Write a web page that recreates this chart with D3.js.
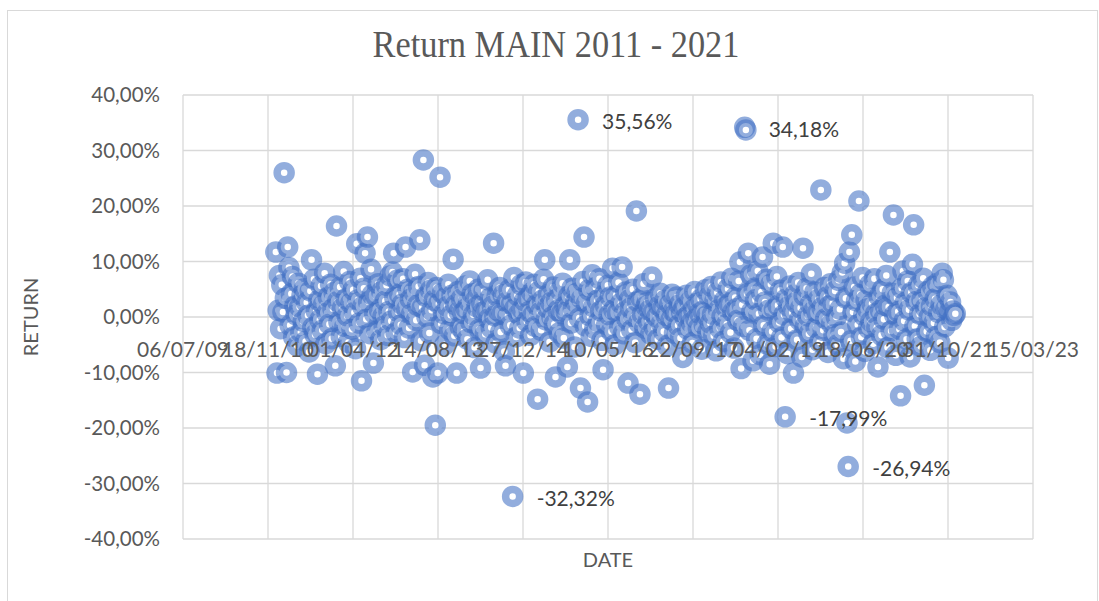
<!DOCTYPE html>
<html>
<head>
<meta charset="utf-8">
<script src="https://cdn.jsdelivr.net/npm/d3@7"></script>
<style>
  body { margin: 0; background: #fff; }
  svg text { font-family: Lato, "Open Sans", sans-serif; }
</style>
</head>
<body>
<svg id="chart" width="1099" height="601"></svg>
<script>
// weekly returns in %, one array per year (52 weeks each)
var years = [2011, 2012, 2013, 2014, 2015, 2016, 2017, 2018, 2019, 2020, 2021];
var r2011 = [11.7,-10.1,1.2,7.5,-2.1,5.8,0.9,26.0,3.4,-10.0,12.6,8.9,-1.5,4.2,7.3,-3.6,2.0,0.4,-5.2,6.1,1.8,-2.7,3.9,-0.8,5.1,-4.4,2.6,0.3,-6.3,4.7,10.3,-1.9,6.8,-3.2,1.1,-10.3,3.0,-0.5,5.6,-2.4,2.2,7.9,-4.8,0.7,3.6,-1.3,5.9,-3.9,1.5,4.4,-8.8,16.4];
var r2012 = [2.8,-0.9,5.4,-3.5,1.6,8.2,-1.7,3.3,0.2,-4.6,6.4,2.5,-2.2,4.9,0.8,-5.7,13.2,3.1,-1.1,7.0,-11.5,1.9,5.2,11.5,-0.4,14.4,2.7,-3.0,8.6,4.0,-8.3,0.6,3.8,-2.5,6.0,1.3,-4.1,4.6,0.1,-1.6,2.9,5.7,-3.3,1.0,7.4,-0.7,8.1,11.5,3.5,-2.8,6.6,0.9];
var r2013 = [4.1,-1.4,2.3,6.9,-3.7,12.6,1.4,5.0,-2.0,3.2,0.5,-9.9,4.5,7.7,-0.6,2.1,5.5,13.9,-4.3,1.7,28.3,-8.7,3.7,0.0,6.2,-2.9,4.8,1.2,-10.8,3.0,-19.5,5.3,-10.1,2.4,25.2,-1.2,4.3,0.6,-5.0,3.6,1.9,5.9,-2.3,0.3,3.9,10.4,-3.4,2.2,-10.1,4.6,1.0,-1.8];
var r2014 = [3.3,0.7,-2.6,5.6,1.5,-4.0,2.8,6.5,-1.0,4.2,0.4,-5.5,3.1,1.8,5.0,-2.2,-9.2,2.5,0.9,4.7,-3.1,1.3,6.7,-0.3,3.4,-1.9,2.0,13.3,0.2,-4.7,3.8,1.1,5.3,-2.7,0.6,4.0,-6.2,-8.8,2.7,0.1,4.9,-1.5,2.3,-32.32,7.1,1.6,-3.6,3.9,0.5,-2.0,5.8,1.4];
var r2015 = [-10.1,2.9,6.3,-0.8,3.5,1.0,-3.3,4.4,0.3,5.9,-1.7,2.2,-14.8,4.6,0.8,-2.4,3.0,6.8,10.3,-0.5,1.7,4.1,-4.5,2.6,0.0,5.4,-1.3,-10.8,3.2,1.2,-2.9,4.8,0.6,6.1,-3.8,2.0,0.9,-9.0,3.7,10.3,-1.1,5.2,1.5,-5.4,2.7,4.3,35.56,-0.2,-12.8,3.3,6.4,14.4];
var r2016 = [-1.6,2.4,-15.3,4.9,0.2,-3.5,7.6,1.8,-2.1,5.3,3.0,-0.9,6.9,1.1,-4.2,-9.5,4.0,2.1,-1.4,5.7,0.4,3.6,-2.6,8.8,1.3,-5.0,3.9,0.7,6.2,-1.8,2.5,9.0,-3.0,0.9,4.5,-0.4,-11.9,3.1,1.6,-2.3,5.0,0.1,-4.6,19.1,2.8,-1.0,-13.9,3.4,0.5,6.0,-2.0,1.9];
var r2017 = [2.6,-0.7,1.2,-3.1,7.2,0.8,-1.9,3.4,0.0,-4.0,2.0,4.3,-1.2,1.5,-2.6,3.0,0.3,-5.2,-12.8,2.3,-0.5,4.1,1.0,-2.9,0.6,3.6,-1.5,2.2,-3.8,0.9,-7.3,1.8,-0.2,3.9,-2.2,0.4,2.8,-1.0,-4.7,1.4,4.6,-0.3,2.5,-2.0,0.7,3.2,-5.8,1.1,-1.4,4.9,0.2,-2.7];
var r2018 = [3.7,-1.1,5.5,0.5,-3.4,2.9,-6.1,4.4,1.3,-2.0,6.3,0.1,-4.4,3.0,1.8,-1.3,5.1,2.4,-2.8,7.0,0.9,-5.6,3.5,1.5,-0.6,6.5,9.9,-9.3,2.2,-1.7,34.18,33.7,4.2,11.5,-2.4,7.6,1.0,-7.9,5.0,3.1,-3.9,8.3,0.6,-6.8,4.5,10.8,-1.5,2.7,6.8,-4.9,1.2,-8.5];
var r2019 = [5.9,-2.6,13.3,1.4,-5.3,7.3,2.1,-1.0,4.8,-3.7,12.6,0.4,-17.99,3.3,-6.6,1.9,5.6,-2.1,0.8,-10.1,4.0,2.6,-4.1,6.2,-0.5,1.6,-7.2,12.4,3.8,-1.6,5.2,0.2,-3.0,2.3,7.8,-5.9,1.1,4.5,-1.9,0.7,3.2,-4.5,22.9,1.7,-2.4,5.3,-0.3,3.6,-6.4,2.0,6.0,-1.2];
var r2020 = [2.5,-3.2,4.7,0.0,-5.0,6.6,1.4,-2.7,8.0,-7.5,9.7,3.4,-19.1,-26.94,11.7,-4.3,14.8,0.9,5.4,-8.0,2.9,-1.4,20.9,4.1,-3.6,7.1,0.3,-6.2,3.0,1.5,-2.0,5.8,-0.8,2.4,-4.8,6.9,0.6,-1.9,-9.0,3.7,1.2,-3.3,5.0,-0.4,2.1,7.5,-5.5,1.8,11.7,-2.5,4.3,18.4];
var r2021 = [0.4,-6.9,3.5,1.0,-2.2,-14.2,5.2,8.3,-0.7,2.6,-4.0,6.5,1.3,-7.2,4.4,9.5,16.6,-1.6,2.8,-3.9,5.7,0.5,-5.3,3.1,7.0,-12.3,1.7,-2.6,4.6,0.0,-6.0,2.0,5.5,-1.1,3.3,-3.5,6.1,0.8,-4.6,2.2,7.9,6.7,-1.8,1.4,3.9,-7.4,0.9,2.7,-0.6,1.1,0.3,0.6];
var yearReturns = [r2011, r2012, r2013, r2014, r2015, r2016, r2017, r2018, r2019, r2020, r2021];

// points that carry a data label
var labelled = ["35,56%", "34,18%", "-32,32%", "-17,99%", "-26,94%"];

var xTicks = ["06/07/09","18/11/10","01/04/12","14/08/13","27/12/14","10/05/16","22/09/17","04/02/19","18/06/20","31/10/21","15/03/23"];
var yTicks = [40, 30, 20, 10, 0, -10, -20, -30, -40];

var parseTick = d3.timeParse("%d/%m/%y");
var firstWeek = new Date(2011, 0, 3);

var data = [];
yearReturns.forEach(function(arr, k){
    arr.forEach(function(v, i){
        data.push({date: d3.timeDay.offset(firstWeek, (k * 52 + i) * 7), value: v});
    });
});

var fmt = function(v){
    return v.toFixed(2).replace(".", ",") + "%";
};

var svg = d3.select("svg#chart");
var plotLeft = 183, plotRight = 1033, plotTop = 95, plotBottom = 539;

var x = d3.scaleTime()
    .domain([parseTick(xTicks[0]), parseTick(xTicks[xTicks.length - 1])])
    .range([plotLeft, plotRight]);
var y = d3.scaleLinear().domain([-40, 40]).range([plotBottom, plotTop]);

// chart border
svg.append("rect")
    .attr("x", 7.5).attr("y", 10.5)
    .attr("width", 1090).attr("height", 600)
    .attr("fill", "none").attr("stroke", "#d9d9d9").attr("stroke-width", 1);

// title
svg.append("text")
    .attr("transform", "translate(556,57) scale(1.01,1.12)")
    .attr("text-anchor", "middle")
    .attr("fill", "#595959")
    .style("font-family", "'Liberation Serif', 'DejaVu Serif', serif")
    .style("font-size", "34px")
    .text("Return MAIN 2011 - 2021");

// gridlines
svg.append("g").selectAll("line")
    .data(yTicks).enter().append("line")
    .attr("x1", plotLeft).attr("x2", plotRight)
    .attr("y1", function(d){ return y(d); })
    .attr("y2", function(d){ return y(d); })
    .attr("stroke", "#d9d9d9").attr("stroke-width", 1.3);

svg.append("g").selectAll("line")
    .data(xTicks).enter().append("line")
    .attr("x1", function(d){ return x(parseTick(d)); })
    .attr("x2", function(d){ return x(parseTick(d)); })
    .attr("y1", plotTop).attr("y2", plotBottom)
    .attr("stroke", "#d9d9d9").attr("stroke-width", 1.3);

// y tick labels
svg.append("g").selectAll("text")
    .data(yTicks).enter().append("text")
    .attr("x", 160)
    .attr("y", function(d){ return y(d); })
    .attr("dy", "0.36em")
    .attr("text-anchor", "end")
    .attr("fill", "#595959")
    .style("font-size", "20.5px")
    .text(function(d){ return d.toFixed(2).replace(".", ",") + "%"; });

// markers
svg.append("g").selectAll("circle")
    .data(data).enter().append("circle")
    .attr("cx", function(d){ return x(d.date); })
    .attr("cy", function(d){ return y(d.value); })
    .attr("r", 7)
    .attr("fill", "#fff")
    .attr("stroke", "#4472c4")
    .attr("stroke-opacity", 0.58)
    .attr("stroke-width", 7.5);

// x tick labels sit on the zero line
svg.append("g").selectAll("text")
    .data(xTicks).enter().append("text")
    .attr("x", function(d){ return x(parseTick(d)); })
    .attr("y", y(0) + 40)
    .attr("text-anchor", "middle")
    .attr("fill", "#595959")
    .style("font-size", "21px")
    .text(function(d){ return d; });

// data labels
svg.append("g").selectAll("text")
    .data(data.filter(function(d){ return labelled.indexOf(fmt(d.value)) >= 0; }))
    .enter().append("text")
    .attr("x", function(d){ return x(d.date) + 24; })
    .attr("y", function(d){ return y(d.value); })
    .attr("dy", "0.45em")
    .attr("fill", "#404040")
    .style("font-size", "21px")
    .text(function(d){ return fmt(d.value); });

// axis titles
svg.append("text")
    .attr("transform", "translate(38," + y(0) + ") rotate(-90)")
    .attr("text-anchor", "middle")
    .attr("fill", "#595959")
    .style("font-size", "20px")
    .text("RETURN");

svg.append("text")
    .attr("x", 608).attr("y", 567)
    .attr("text-anchor", "middle")
    .attr("fill", "#595959")
    .style("font-size", "20px")
    .text("DATE");
</script>
</body>
</html>
